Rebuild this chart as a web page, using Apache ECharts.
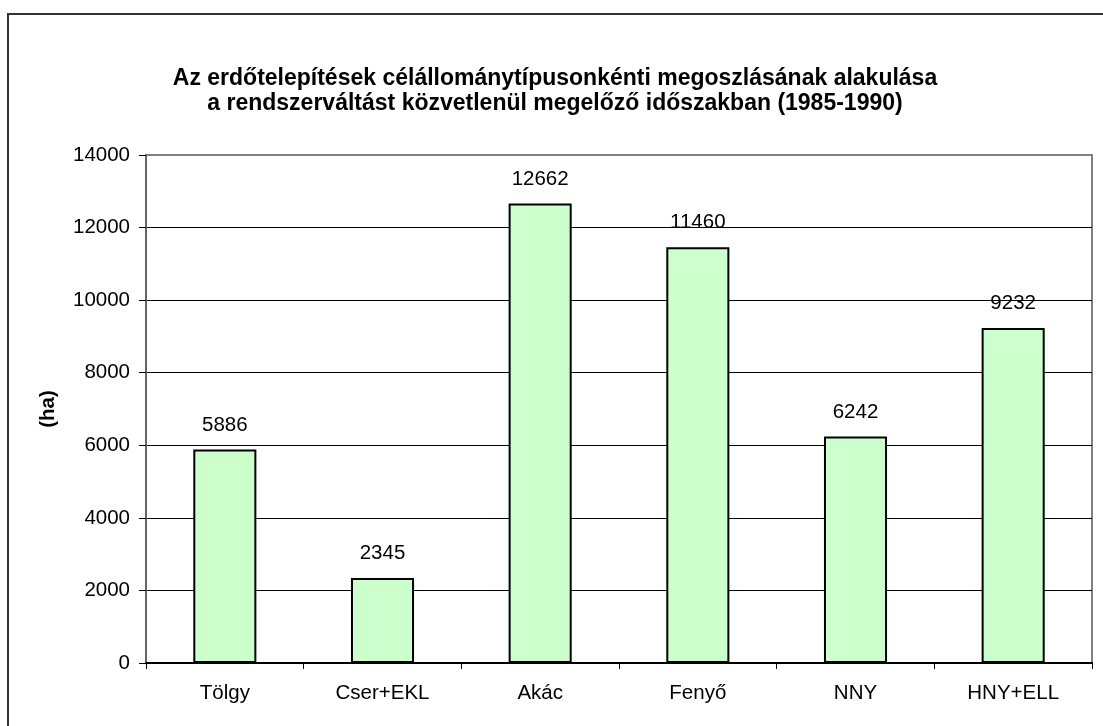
<!DOCTYPE html>
<html>
<head>
<meta charset="utf-8">
<script src="https://cdn.jsdelivr.net/npm/echarts@6/dist/echarts.min.js"></script>
<style>
  html, body { margin: 0; padding: 0; background: #fff; overflow: hidden; }
  #wrap { position: relative; width: 1103px; height: 726px; overflow: hidden; }
  #chart { width: 1103px; height: 726px; }
  /* chart-area frame: only its top and left edges fall inside the picture */
  #frame {
    position: absolute; left: 7px; top: 13px;
    width: 2000px; height: 2000px;
    border-left: 2px solid #333; border-top: 2px solid #333;
    pointer-events: none;
  }
</style>
</head>
<body>
<div id="wrap">
  <div id="chart"></div>
  <div id="frame"></div>
</div>
<script>
// data
const categories = ["Tölgy", "Cser+EKL", "Akác", "Fenyő", "NNY", "HNY+ELL"];
const areaHa = [5886, 2345, 12662, 11460, 6242, 9232];
const titleLines = [
  "Az erdőtelepítések célállománytípusonkénti megoszlásának alakulása",
  "a rendszerváltást közvetlenül megelőző időszakban (1985-1990)"
];
const yTicks = { min: 0, max: 14000, interval: 2000 };

const FONT = "'Liberation Sans', Arial, sans-serif";

const chart = echarts.init(document.getElementById("chart"));

// grid lines: black, top one left to the gray plot border
const splitColors = [];
for (let v = yTicks.min; v <= yTicks.max; v += yTicks.interval) {
  splitColors.push(v === yTicks.max ? "rgba(0,0,0,0)" : "#000");
}

chart.setOption({
  animation: false,
  backgroundColor: "#fff",
  textStyle: { fontFamily: FONT },
  title: {
    text: titleLines.join("\n"),
    left: 550,
    top: 61,
    textAlign: "center",
    textStyle: {
      fontFamily: FONT,
      fontSize: 23,
      fontWeight: "bold",
      color: "#000",
      lineHeight: 25
    }
  },
  grid: {
    left: 146,
    top: 155,
    right: 11,
    bottom: 63,
    show: true,
    borderColor: "#808080",
    borderWidth: 2,
    containLabel: false
  },
  xAxis: {
    type: "category",
    data: categories,
    axisLine: { lineStyle: { color: "#000", width: 2 } },
    axisTick: { show: true, length: 6, lineStyle: { color: "#000", width: 1 } },
    axisLabel: { color: "#000", fontSize: 20.5, fontFamily: FONT, margin: 20 }
  },
  yAxis: {
    type: "value",
    min: yTicks.min,
    max: yTicks.max,
    interval: yTicks.interval,
    name: "(ha)",
    nameLocation: "middle",
    nameGap: 87,
    nameRotate: 90,
    nameTextStyle: { color: "#000", fontSize: 20.5, fontWeight: "bold", fontFamily: FONT },
    axisLine: { show: true, lineStyle: { color: "#666", width: 2 } },
    axisTick: { show: true, length: 7, lineStyle: { color: "#000", width: 1 } },
    axisLabel: {
      color: "#000",
      fontSize: 20.5,
      fontFamily: FONT,
      margin: 16,
      formatter: (v) => String(v)
    },
    splitLine: { show: true, lineStyle: { color: splitColors, width: 1 } }
  },
  series: [{
    type: "bar",
    data: areaHa,
    barWidth: "40%",
    itemStyle: { color: "#CCFFCC", borderColor: "#000", borderWidth: 2 },
    label: {
      show: true,
      position: "top",
      distance: 14,
      color: "#000",
      fontSize: 20.5,
      fontFamily: FONT
    }
  }]
});
</script>
</body>
</html>
